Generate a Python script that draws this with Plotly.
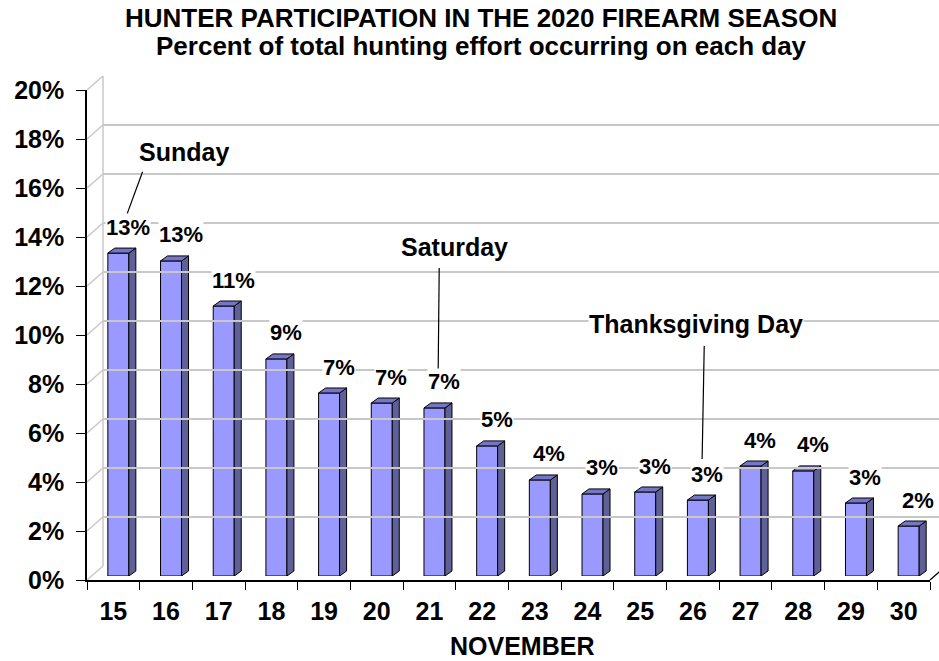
import plotly.graph_objects as go

# Jours de novembre et part de l'effort de chasse (%)
days = [15, 16, 17, 18, 19, 20, 21, 22, 23, 24, 25, 26, 27, 28, 29, 30]
values = [13.18, 12.86, 11.02, 8.86, 7.47, 7.06, 6.86, 5.31,
          3.92, 3.35, 3.43, 3.10, 4.49, 4.29, 2.98, 2.04]
y_ticks = [0, 2, 4, 6, 8, 10, 12, 14, 16, 18, 20]

colors = {
    'front': '#9999FF',
    'side': '#606099',
    'top': '#7676C8',
    'grid': '#C8C8C8',
    'text': 'black'
}
FONT = "Liberation Sans, Arial, sans-serif"

# geometrie en pixels (fenetre 939x661)
W, H = 939, 661
L, R, T, B = 87, 0, 76, 81
pw, ph = W - L - R, H - T - B          # 852 x 504
front_w, front_h = 843, 490            # axe avant
mid_dx, mid_dy = 5, 4                  # plan des barres
back_dx, back_dy = 16, 14              # mur du fond
px_x = front_w / 16
px_y = front_h / 20

bar_w = 21 / px_x
dx = 7 / px_x
dy = 5 / px_y

fig = go.Figure()

# faces avant
fig.add_trace(go.Bar(x=days, y=values, width=bar_w, xaxis='x2', yaxis='y2',
                     marker=dict(color=colors['front'], line=dict(color='black', width=1)),
                     showlegend=False, hoverinfo='skip'))

# faces laterales et dessus (effet 3D)
side_x, side_y, top_x, top_y = [], [], [], []
for d, v in zip(days, values):
    r = d + bar_w / 2
    l = d - bar_w / 2
    side_x += [r, r + dx, r + dx, r, r, None]
    side_y += [0, dy, v + dy, v, 0, None]
    top_x += [l, r, r + dx, l + dx, l, None]
    top_y += [v, v, v + dy, v + dy, v, None]

fig.add_trace(go.Scatter(x=side_x, y=side_y, xaxis='x2', yaxis='y2', mode='lines',
                         fill='toself', fillcolor=colors['side'],
                         line=dict(color='black', width=1), showlegend=False, hoverinfo='skip'))
fig.add_trace(go.Scatter(x=top_x, y=top_y, xaxis='x2', yaxis='y2', mode='lines',
                         fill='toself', fillcolor=colors['top'],
                         line=dict(color='black', width=1), showlegend=False, hoverinfo='skip'))

# traces invisibles pour activer les axes avant et fond
fig.add_trace(go.Scatter(x=[days[0]], y=[0], mode='markers', marker=dict(opacity=0),
                         showlegend=False, hoverinfo='skip'))
fig.add_trace(go.Scatter(x=[days[0]], y=[0], xaxis='x3', yaxis='y3', mode='markers',
                         marker=dict(opacity=0), showlegend=False, hoverinfo='skip'))

tick_font = dict(family=FONT, size=25, color='black', weight='bold')

fig.update_layout(
    width=W, height=H,
    margin=dict(l=L, r=R, t=T, b=B),
    paper_bgcolor='white', plot_bgcolor='rgba(0,0,0,0)',
    # axes avant
    xaxis=dict(domain=[0, front_w / pw], range=[14.5, 30.5], tickvals=days,
               showgrid=False, zeroline=False, showline=True, linecolor='black', linewidth=1.5,
               ticks='', ticklabelstandoff=8, tickfont=tick_font,
               minor=dict(tick0=14.5, dtick=1, ticks='outside', ticklen=8,
                          tickcolor='black', tickwidth=1, showgrid=False)),
    yaxis=dict(domain=[0, front_h / ph], range=[0, 20], tickvals=y_ticks,
               ticktext=[f"{t}%" for t in y_ticks],
               showgrid=False, zeroline=False, showline=True, linecolor='black', linewidth=1.5,
               ticks='outside', ticklen=9, tickcolor='black', ticklabelstandoff=7,
               tickfont=tick_font),
    # plan des barres
    xaxis2=dict(domain=[mid_dx / pw, (mid_dx + front_w) / pw], range=[14.5, 30.5],
                anchor='y2', visible=False),
    yaxis2=dict(domain=[mid_dy / ph, (mid_dy + front_h) / ph], range=[0, 20],
                anchor='x2', visible=False),
    # mur du fond
    xaxis3=dict(domain=[back_dx / pw, 1], range=[0, 1], anchor='y3', visible=False),
    yaxis3=dict(domain=[back_dy / ph, (back_dy + front_h) / ph], range=[0, 20],
                anchor='x3', tickvals=y_ticks, showticklabels=False, ticks='',
                showgrid=True, gridcolor=colors['grid'], gridwidth=1.5,
                zeroline=False, showline=False),
)

# mur lateral et arete du fond
shapes = []
for t in y_ticks:
    shapes.append(dict(type='line', xref='paper', yref='paper',
                       x0=0, y0=t * px_y / ph, x1=back_dx / pw, y1=(back_dy + t * px_y) / ph,
                       line=dict(color=colors['grid'], width=1.5), layer='below'))
shapes.append(dict(type='line', xref='paper', yref='paper',
                   x0=back_dx / pw, y0=back_dy / ph, x1=back_dx / pw, y1=(back_dy + front_h) / ph,
                   line=dict(color=colors['grid'], width=1.5), layer='below'))
shapes.append(dict(type='line', xref='paper', yref='paper',
                   x0=front_w / pw, y0=0, x1=(front_w + back_dx) / pw, y1=back_dy / ph,
                   line=dict(color='black', width=1.2)))

# lignes de rappel des annotations
leaders = [((15.46, 16.5), (15.17, 14.8)),
           ((21.09, 12.57), (21.07, 8.29)),
           ((26.12, 9.39), (26.08, 4.78))]
for (x0, y0), (x1, y1) in leaders:
    shapes.append(dict(type='line', xref='x2', yref='y2', x0=x0, y0=y0, x1=x1, y1=y1,
                       line=dict(color='black', width=1.2)))
fig.update_layout(shapes=shapes)

# etiquettes de valeurs (fond blanc comme dans Excel)
for d, v in zip(days, values):
    fig.add_annotation(text=f"{v:.0f}%", x=d + 0.18, y=v + 1.06, xref='x2', yref='y2',
                       showarrow=False, xanchor='center', yanchor='middle',
                       bgcolor='white', borderpad=0,
                       font=dict(family=FONT, size=22, color='black', weight='bold'))

notes = [("Sunday", 16.25, 17.3), ("Saturday", 21.38, 13.43), ("Thanksgiving Day", 25.97, 10.29)]
for txt, x, y in notes:
    fig.add_annotation(text=txt, x=x, y=y, xref='x2', yref='y2', showarrow=False,
                       xanchor='center', yanchor='middle', bgcolor='white', borderpad=0,
                       font=dict(family=FONT, size=25, color='black', weight='bold'))

# titre sur deux lignes
titles = [("HUNTER PARTICIPATION IN THE 2020 FIREARM SEASON", 18),
          ("Percent of total hunting effort occurring on each day", 46)]
for txt, yc in titles:
    fig.add_annotation(text=txt, x=(481 - L) / pw, y=(580 - yc) / ph,
                       xref='paper', yref='paper', showarrow=False,
                       xanchor='center', yanchor='middle',
                       font=dict(family=FONT, size=26, color='black', weight='bold'))

fig.add_annotation(text="NOVEMBER", x=(522 - L) / pw, y=-(646 - 580) / ph,
                   xref='paper', yref='paper', showarrow=False, yanchor='middle',
                   font=dict(family=FONT, size=25, color='black', weight='bold'))

fig.write_html("out.html", config={'displayModeBar': False},
               post_script="document.body.style.margin='0px';")
